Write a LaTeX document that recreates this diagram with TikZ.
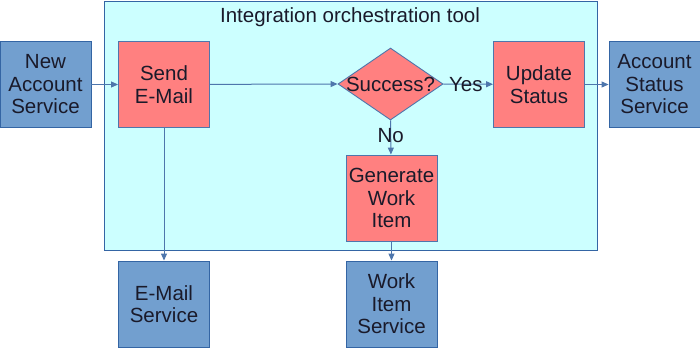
\documentclass[tikz,border=0pt]{standalone}
\usepackage{fontspec}
\setmainfont{Liberation Sans}
\usetikzlibrary{arrows.meta,shapes.geometric}
\definecolor{svcblue}{HTML}{729FCF}
\definecolor{edgeblue}{HTML}{3465A4}
\definecolor{steprd}{HTML}{FF8080}
\definecolor{toolcyan}{HTML}{CCFFFF}
\definecolor{linkblue}{RGB}{78,118,172}
\definecolor{inktext}{HTML}{1A1A2A}
\tikzset{
  x=1pt, y=-1pt,
  every node/.style={font=\fontsize{20.5}{22.5}\selectfont, text=inktext, align=center, inner sep=0pt},
  svcbox/.style={draw=edgeblue, fill=svcblue, line width=0.9pt, minimum width=91pt, minimum height=86pt},
  stepbox/.style={draw=linkblue, fill=steprd, line width=0.9pt, minimum width=91pt, minimum height=86pt},
  decide/.style={diamond, draw=linkblue, fill=steprd, line width=0.9pt, minimum width=105pt, minimum height=72pt, aspect=1.46},
  link/.style={draw=linkblue, line width=1pt, -{Triangle[length=7pt,width=6pt]}},
}
\begin{document}
\begin{tikzpicture}
\useasboundingbox (0,0) rectangle (700,348);
% orchestration container
\node[draw=edgeblue, fill=toolcyan, line width=1pt, minimum width=493pt, minimum height=249pt, anchor=north west] (tool) at (103.5,0.5) {};
\node (title) at (350,17) {Integration orchestration tool};
% services outside the tool
\node[svcbox] (newacc) at (45.5,84.5) {New\\Account\\Service};
\node[svcbox] (accstat) at (654.5,84.5) {Account\\Status\\Service};
\node[svcbox] (mailsvc) at (164,304) {E-Mail\\Service};
\node[svcbox] (worksvc) at (391.5,304) {Work\\Item\\Service};
% steps inside the tool
\node[stepbox] (send) at (164,84.5) {Send\\E-Mail};
\node[decide] (ok) at (390.5,84) {};
\node (oktext) at (390.5,84) {Success?};
\node[stepbox] (update) at (539,84.5) {Update\\Status};
\node[stepbox] (gen) at (391.5,198) {Generate\\Work\\Item};
% connectors
\draw[link] (newacc) -- (send);
\draw[link] (send) -- (ok.west);
\draw[link] (ok.east) -- node[pos=0.45] {Yes} (update);
\draw[link] (update) -- (accstat);
\draw[link] (ok.south) -- node[pos=0.45] {No} (gen);
\draw[link] (send) -- (mailsvc);
\draw[link] (gen) -- (worksvc);
\end{tikzpicture}
\end{document}
